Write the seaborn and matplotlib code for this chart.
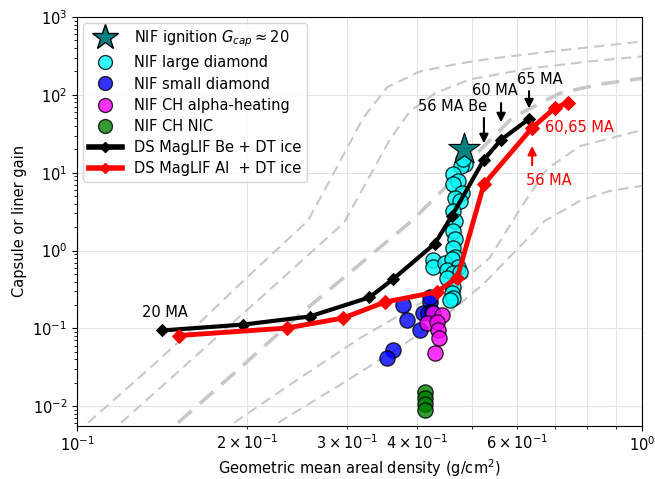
import matplotlib
matplotlib.use("Agg")
import matplotlib.pyplot as plt
from matplotlib.lines import Line2D
import seaborn as sns

# --- NIF shot data: geometric mean areal density (g/cm^2) vs capsule gain ---
ignition_x = [0.484]
ignition_y = [20.0]

large_x = [0.486, 0.478, 0.482, 0.463, 0.472, 0.463, 0.480, 0.467, 0.476, 0.463,
           0.467, 0.463, 0.467, 0.463, 0.467, 0.427, 0.427, 0.448, 0.461, 0.472,
           0.452, 0.463, 0.476, 0.452, 0.463, 0.461, 0.463, 0.457]
large_y = [12.95, 12.2, 15.0, 9.66, 7.85, 7.19, 5.52, 4.76, 4.36, 3.25,
           2.42, 1.80, 1.42, 1.09, 0.814, 0.745, 0.607, 0.70, 0.79, 0.607,
           0.555, 0.508, 0.523, 0.438, 0.336, 0.282, 0.243, 0.23]

small_x = [0.3776, 0.3837, 0.4047, 0.4097, 0.4216, 0.4181, 0.3622, 0.3537, 0.425, 0.4216]
small_y = [0.198, 0.127, 0.0948, 0.156, 0.216, 0.156, 0.0526, 0.0416, 0.161, 0.25]

alpha_x = [0.4266, 0.4426, 0.4165, 0.4341, 0.436, 0.4379, 0.4303]
alpha_y = [0.156, 0.1476, 0.1167, 0.12, 0.0948, 0.075, 0.0482]

nic_x = [0.413, 0.413, 0.413, 0.413]
nic_y = [0.01528, 0.0128, 0.0107, 0.009]

# --- MagLIF current scans (20 MA ... 65 MA) ---
be_x = [0.1414, 0.197, 0.258, 0.329, 0.362, 0.430, 0.461, 0.525, 0.563, 0.631]
be_y = [0.094, 0.112, 0.142, 0.25, 0.425, 1.23, 2.81, 14.7, 26.5, 49.0]

al_x = [0.1516, 0.235, 0.296, 0.351, 0.434, 0.471, 0.525, 0.639, 0.701, 0.740]
al_y = [0.081, 0.101, 0.136, 0.218, 0.295, 0.45, 7.1, 37.8, 68.0, 79.0]

# --- reference gain curves ---
curve_x = [
    [0.1046, 0.1346, 0.1651, 0.2025, 0.2563, 0.2873, 0.3208, 0.3537, 0.4047, 0.4764, 0.5450, 0.7157, 1.0],
    [0.1197, 0.1522, 0.1943, 0.2382, 0.2969, 0.3261, 0.3581, 0.3885, 0.4303, 0.4961, 0.6337, 0.8091, 1.0],
    [0.1510, 0.1943, 0.2481, 0.3042, 0.3916, 0.4391, 0.5105, 0.5913, 0.7157, 0.8427, 1.0],
    [0.1896, 0.2481, 0.3169, 0.4047, 0.4900, 0.5383, 0.6084, 0.6790, 0.7770, 1.0],
    [0.2269, 0.2920, 0.3730, 0.4573, 0.5252, 0.6734, 0.7770, 0.8780, 1.0],
]
curve_y = [
    [0.00614, 0.0310, 0.120, 0.493, 2.42, 11.2, 50.2, 125, 200, 254, 294, 372, 484],
    [0.00614, 0.0292, 0.143, 0.539, 2.28, 7.85, 27.0, 61.7, 105, 158, 219, 269, 312],
    [0.00614, 0.0310, 0.152, 0.523, 2.42, 5.52, 17.9, 51.7, 105, 137, 163],
    [0.00614, 0.0231, 0.0749, 0.210, 0.452, 0.814, 3.44, 11.2, 22.0, 35.3],
    [0.00614, 0.0188, 0.0575, 0.161, 0.379, 2.42, 4.36, 5.85, 6.78],
]
curve_width = [1.5, 1.5, 2.6, 1.5, 1.5]

FS = 10.5
plt.rcParams["font.size"] = FS

fig = plt.figure(figsize=(6.55, 4.79), dpi=100)
ax = fig.add_axes([0.1176, 0.111, 0.8626, 0.8535])
ax.set_xscale("log")
ax.set_yscale("log")

for cx, cy, lw in zip(curve_x, curve_y, curve_width):
    sns.lineplot(x=cx, y=cy, ax=ax, sort=False, estimator=None, color="#c8c8c8",
                 lw=lw, zorder=1).lines[-1].set_dashes((5, 3))

scatter_kw = dict(s=120, edgecolor="black", linewidth=1.0, alpha=0.8, zorder=3, ax=ax, legend=False)
sns.scatterplot(x=large_x, y=large_y, color="cyan", **scatter_kw)
sns.scatterplot(x=small_x, y=small_y, color="blue", **scatter_kw)
sns.scatterplot(x=alpha_x, y=alpha_y, color="magenta", **scatter_kw)
sns.scatterplot(x=nic_x, y=nic_y, color="green", **scatter_kw)
sns.scatterplot(x=ignition_x, y=ignition_y, marker="*", s=560, color="teal",
                edgecolor="black", linewidth=0.8, zorder=4, ax=ax, legend=False)

sns.lineplot(x=be_x, y=be_y, ax=ax, sort=False, estimator=None, color="black",
             lw=3, marker="D", markersize=6, markeredgecolor="black", zorder=5)
sns.lineplot(x=al_x, y=al_y, ax=ax, sort=False, estimator=None, color="red",
             lw=3.5, marker="D", markersize=7, markeredgecolor="red", zorder=5)

# current labels
ax.text(0.1429, 0.161, "20 MA", ha="center", va="center", fontsize=FS)
arrow_k = dict(arrowstyle="-|>", color="black", lw=1.5, mutation_scale=13)
arrow_r = dict(arrowstyle="-|>", color="red", lw=1.5, mutation_scale=13)
ax.annotate("", xy=(be_x[7], 22.0), xytext=(be_x[7], 54.8), arrowprops=arrow_k)
ax.annotate("", xy=(be_x[8], 40.9), xytext=(be_x[8], 85.3), arrowprops=arrow_k)
ax.annotate("", xy=(be_x[9], 61.7), xytext=(be_x[9], 121), arrowprops=arrow_k)
ax.text(0.5316, 71.5, "56 MA Be", ha="right", va="center", fontsize=FS)
ax.text(0.549, 114.5, "60 MA", ha="center", va="center", fontsize=FS)
ax.text(0.660, 158, "65 MA", ha="center", va="center", fontsize=FS)
ax.annotate("", xy=(al_x[7], 24.0), xytext=(al_x[7], 11.5), arrowprops=arrow_r)
ax.text(0.6734, 38.5, "60,65 MA", ha="left", va="center", fontsize=FS, color="red")
ax.text(0.6844, 7.85, "56 MA", ha="center", va="center", fontsize=FS, color="red")

ax.set_xlim(0.1, 1.0)
ax.set_ylim(5.6e-3, 1e3)
ax.grid(True, which="major", color="#e4e4e4", lw=0.8)
ax.grid(True, which="minor", axis="x", color="#e4e4e4", lw=0.8)
ax.set_axisbelow(True)
ax.tick_params(labelsize=FS)
ax.set_xlabel("Geometric mean areal density (g/cm$^2$)", fontsize=FS, labelpad=2)
ax.set_ylabel("Capsule or liner gain", fontsize=FS)

dot = dict(marker="o", ls="none", markersize=10, markeredgecolor="black", alpha=0.8)
handles = [
    Line2D([], [], marker="*", ls="none", markersize=19, color="teal", markeredgecolor="black"),
    Line2D([], [], color="cyan", **dot),
    Line2D([], [], color="blue", **dot),
    Line2D([], [], color="magenta", **dot),
    Line2D([], [], color="green", **dot),
    Line2D([], [], color="black", lw=4, marker="D", markersize=5),
    Line2D([], [], color="red", lw=4, marker="D", markersize=5),
]
labels = [r"NIF ignition $G_{cap} \approx 20$", "NIF large diamond", "NIF small diamond",
          "NIF CH alpha-heating", "NIF CH NIC", "DS MagLIF Be + DT ice", "DS MagLIF Al  + DT ice"]
ax.legend(handles, labels, loc="upper left", fontsize=FS, framealpha=0.8,
          labelspacing=0.42, handlelength=2.3, borderaxespad=0.4)

fig.savefig("out.png", dpi=100)
